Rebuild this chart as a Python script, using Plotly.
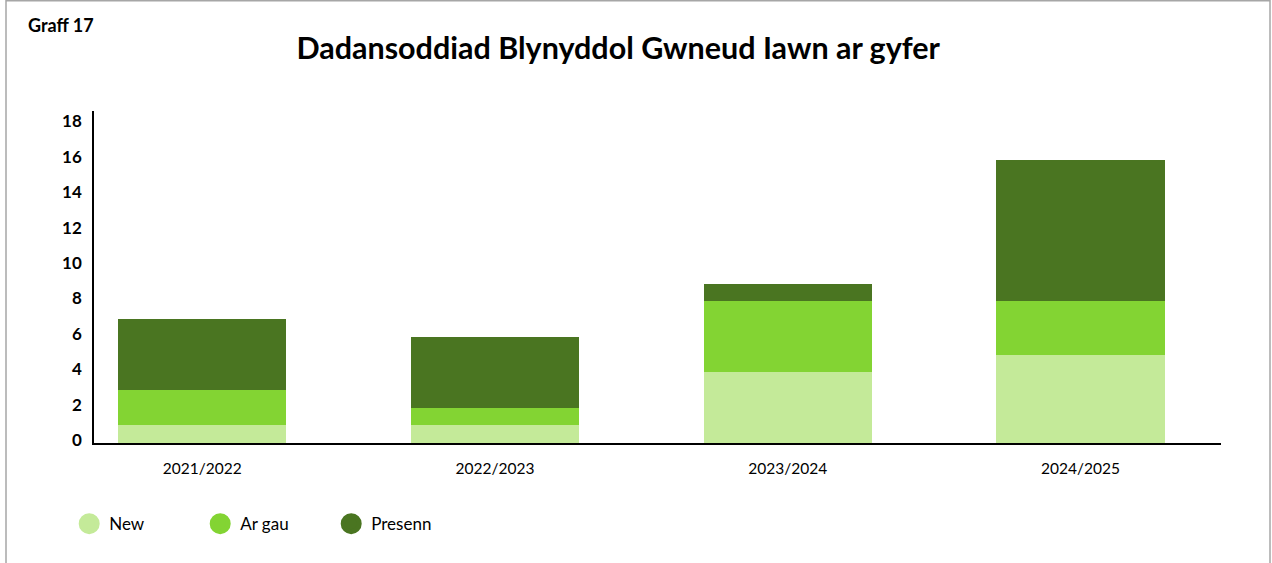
import plotly.graph_objects as go

categories = ["2021/2022", "2022/2023", "2023/2024", "2024/2025"]
new_vals = [1, 1, 4, 5]
ar_gau_vals = [2, 1, 4, 3]
presenn_vals = [4, 4, 1, 8]
y_ticks = [0, 2, 4, 6, 8, 10, 12, 14, 16, 18]

series = [
    ("New", new_vals, "#C4EA99"),
    ("Ar gau", ar_gau_vals, "#83D433"),
    ("Presenn", presenn_vals, "#4A7521"),
]

fig = go.Figure()
for name, vals, col in series:
    fig.add_trace(go.Bar(x=categories, y=vals, name=name, marker=dict(color=col, line=dict(width=0)),
                         width=0.574, showlegend=False))
for name, vals, col in series:
    fig.add_trace(go.Scatter(x=[None], y=[None], mode="markers", name=name,
                             marker=dict(symbol="circle", size=16, color=col,
                                         line=dict(color=col, width=5)), showlegend=True))

font = "Lato, 'Open Sans', sans-serif"
fig.update_layout(
    barmode="stack",
    width=1272, height=563,
    margin=dict(l=94, r=51, t=111, b=120),
    paper_bgcolor="white", plot_bgcolor="white",
    font=dict(family=font, color="#000000"),
    title=dict(text="<b>Dadansoddiad Blynyddol Gwneud Iawn ar gyfer</b>", x=0.486, xanchor="center",
               y=0.915, yanchor="middle", font=dict(size=30.5, family=font, color="#000")),
    xaxis=dict(type="category", range=[-0.37, 3.48], showline=True, linecolor="#000", linewidth=2,
               ticks="", showgrid=False, tickfont=dict(size=15.5, family=font), ticklabelstandoff=10),
    yaxis=dict(range=[0, 18.76], tickvals=y_ticks, ticktext=["<b>%d</b>" % v for v in y_ticks],
               showline=True, linecolor="#000", linewidth=1.5, showgrid=False, zeroline=False,
               ticks="", tickfont=dict(size=17, family=font), ticklabelstandoff=7, ticklabelshift=-3),
    legend=dict(orientation="h", x=-0.022, xanchor="left", y=-0.19, yanchor="top",
                font=dict(size=17, family=font), entrywidth=86, itemsizing="trace",
                traceorder="normal"),
    bargap=0.4,
)
fig.add_annotation(text="<b>Graff 17</b>", xref="paper", yref="paper", x=(26 - 94) / 1127, y=(443 - 25) / 332,
                   xanchor="left", yanchor="middle", showarrow=False, font=dict(size=18, family=font))
fig.add_shape(type="rect", xref="paper", yref="paper", x0=(6 - 94) / 1127, x1=(1270 - 94) / 1127,
              y0=(443 - 600) / 332, y1=(443 - 0.8) / 332, line=dict(color="#A6A6A6", width=1.5),
              fillcolor="rgba(0,0,0,0)", layer="below")
fig.write_html("out.html", config={"displayModeBar": False},
               post_script="document.body.style.margin='0';document.body.style.overflow='hidden';")
